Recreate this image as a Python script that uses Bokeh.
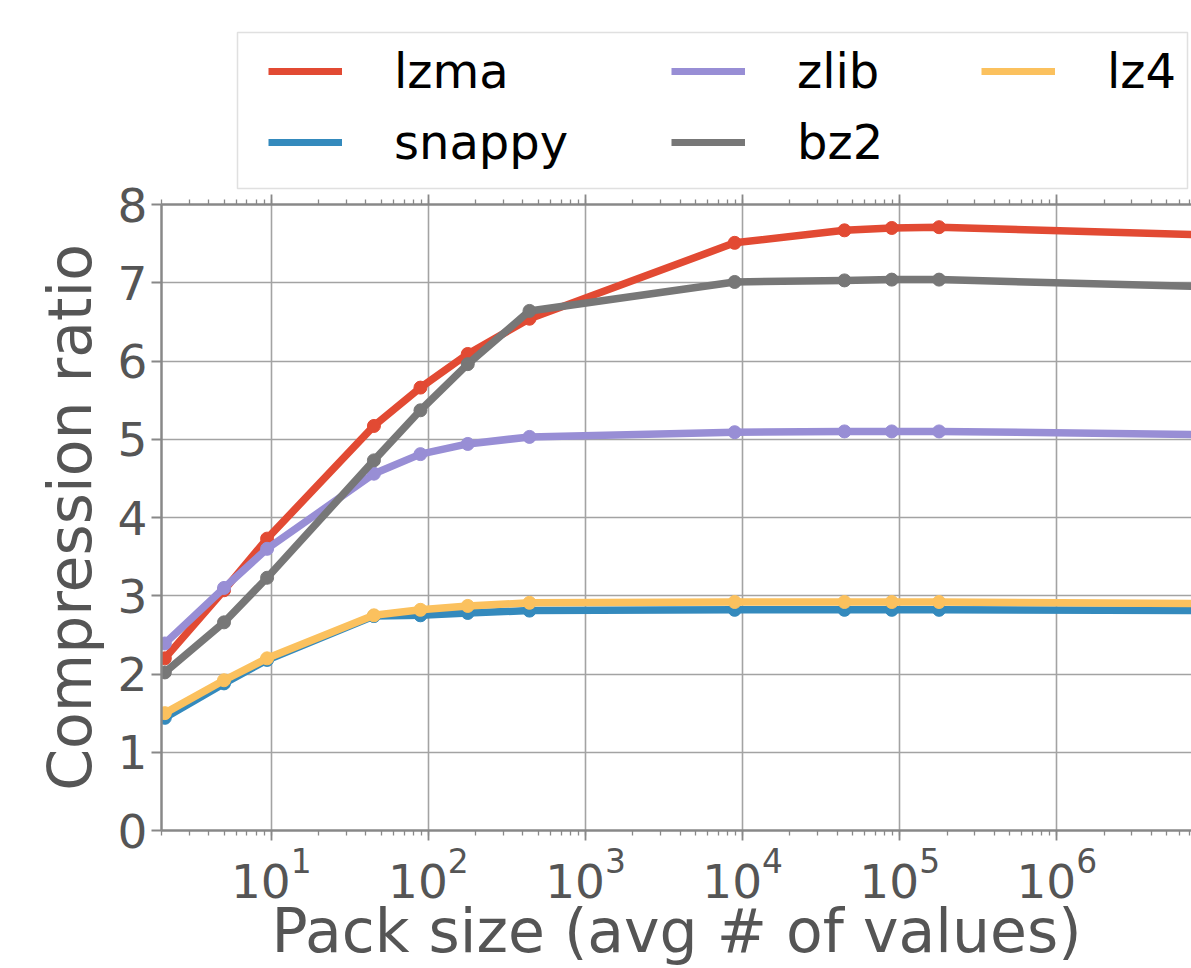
from bokeh.plotting import figure
from bokeh.layouts import column
from bokeh.models import (LogAxis, Legend, LegendItem, LogTicker, FixedTicker,
                          CustomJSTickFormatter, Range1d, BoxAnnotation)
from bokeh.embed import file_html
from bokeh.resources import INLINE

# ---- data ----
pack_size = [2.1, 5.0, 9.4, 45, 89, 178, 440, 8900, 44500, 89000, 178000, 8900000]
lzma   = [2.20, 3.07, 3.73, 5.17, 5.66, 6.09, 6.54, 7.51, 7.67, 7.70, 7.71, 7.61]
snappy = [1.44, 1.88, 2.18, 2.74, 2.75, 2.78, 2.81, 2.82, 2.82, 2.82, 2.82, 2.81]
zlib   = [2.39, 3.10, 3.60, 4.56, 4.81, 4.94, 5.03, 5.09, 5.10, 5.10, 5.10, 5.06]
bz2    = [2.02, 2.66, 3.23, 4.73, 5.37, 5.96, 6.64, 7.01, 7.03, 7.04, 7.04, 6.95]
lz4    = [1.50, 1.92, 2.20, 2.75, 2.82, 2.87, 2.91, 2.92, 2.92, 2.92, 2.92, 2.90]
names  = ["lzma", "snappy", "zlib", "bz2", "lz4"]
colors = ["#E24A33", "#348ABD", "#988ED5", "#777777", "#FBC15E"]
y_ticks = [0, 1, 2, 3, 4, 5, 6, 7, 8]

series = dict(zip(names, [lzma, snappy, zlib, bz2, lz4]))
color_of = dict(zip(names, colors))

FONT = "DejaVu Sans"
AX = "#888888"
TXT = "#555555"
GRID = "#a3a3a3"

W = 1191
LEFT = 161
LEG_H = 190
OVERLAP = 22
MAIN_H = 968 - LEG_H + OVERLAP

# ---------------- main chart ----------------
p = figure(width=W, height=MAIN_H, x_axis_type="log",
           x_range=Range1d(2, 7.2e6), y_range=Range1d(0, 8),
           output_backend="svg", toolbar_location=None,
           min_border_left=LEFT, min_border_right=0,
           min_border_top=14 + OVERLAP, min_border_bottom=138,
           background_fill_color="white", border_fill_alpha=0.0,
           margin=(-OVERLAP, 0, 0, 0))
p.outline_line_color = None

p.xgrid.grid_line_color = GRID
p.xgrid.grid_line_width = 1.6
p.ygrid.grid_line_color = GRID
p.ygrid.grid_line_width = 1.6

p.yaxis.ticker = FixedTicker(ticks=y_ticks)
p.yaxis.axis_label = "Compression ratio"
p.yaxis.axis_label_text_font = FONT
p.yaxis.axis_label_text_font_size = "60px"
p.yaxis.axis_label_text_font_style = "normal"
p.yaxis.axis_label_text_color = TXT
p.yaxis.axis_label_standoff = 10
p.yaxis.major_label_text_font = FONT
p.yaxis.major_label_text_font_size = "47px"
p.yaxis.major_label_text_color = TXT
p.yaxis.major_label_standoff = 4

p.xaxis.ticker = LogTicker(num_minor_ticks=10)
p.xaxis.axis_label = "Pack size (avg # of values)"
p.xaxis.axis_label_text_font = FONT
p.xaxis.axis_label_text_font_size = "60px"
p.xaxis.axis_label_text_font_style = "normal"
p.xaxis.axis_label_text_color = TXT
p.xaxis.axis_label_standoff = -5
p.xaxis.major_label_text_font = FONT
p.xaxis.major_label_text_font_size = "47px"
p.xaxis.major_label_text_color = TXT
p.xaxis.major_label_standoff = 7

for ax in (p.xaxis, p.yaxis):
    ax.axis_line_color = AX
    ax.axis_line_width = 2.5
    ax.major_tick_line_color = AX
    ax.major_tick_line_width = 1.8
    ax.major_tick_out = 10
    ax.major_tick_in = 0
    ax.minor_tick_line_width = 1.3
    ax.minor_tick_out = 5
    ax.minor_tick_in = 0
p.xaxis.minor_tick_line_color = AX
p.yaxis.minor_tick_line_color = None

# top spine with ticks, no labels
top = LogAxis(ticker=LogTicker(num_minor_ticks=10),
              formatter=CustomJSTickFormatter(code="return ''"),
              axis_line_color=AX, axis_line_width=2.5,
              major_tick_line_color=AX, major_tick_line_width=1.8,
              major_tick_out=10, major_tick_in=0,
              minor_tick_line_color=AX, minor_tick_line_width=1.3,
              minor_tick_out=5, minor_tick_in=0,
              major_label_text_font_size="1px", major_label_standoff=0)
p.add_layout(top, "above")

for name in names:
    c = color_of[name]
    ys = series[name]
    p.line(pack_size, ys, line_width=7.5, color=c, line_join="round")
    p.scatter(pack_size, ys, size=13, color=c)

# ---------------- legend strip ----------------
lg = figure(width=W, height=LEG_H, x_range=Range1d(LEFT, W), y_range=Range1d(0, LEG_H),
            x_axis_type=None, y_axis_type=None,
            output_backend="svg", toolbar_location=None,
            min_border_left=LEFT, min_border_right=0,
            min_border_top=0, min_border_bottom=0,
            background_fill_color="white", border_fill_color="white")
lg.outline_line_color = None
lg.xgrid.visible = False
lg.ygrid.visible = False

nan = float("nan")
dummy = {}
for name in names:
    dummy[name] = lg.line(x=[nan], y=[nan], line_width=7, color=color_of[name])

common = dict(label_text_font=FONT, label_text_font_size="48px",
              label_text_color="black", glyph_width=74, glyph_height=56,
              label_height=56, label_standoff=52, spacing=15, padding=0,
              margin=0, orientation="vertical", label_width=20,
              border_line_color=None, background_fill_alpha=0.0)

ROW_TOP = 43
two_rows = 56 * 2 + 15
one_row = 56
cols = [(["lzma", "snappy"], 268), (["zlib", "bz2"], 671), (["lz4"], 981)]
for labels, gx in cols:
    hgt = two_rows if len(labels) == 2 else one_row
    vy = LEG_H - ROW_TOP - hgt
    leg = Legend(items=[LegendItem(label=l, renderers=[dummy[l]]) for l in labels],
                 location=(gx - LEFT, vy), **common)
    lg.add_layout(leg)

frame_box = BoxAnnotation(left=237, right=1187, bottom=LEG_H - 188, top=LEG_H - 32,
                          fill_color=None, fill_alpha=0.0,
                          line_color="#999999", line_width=1.5)
lg.add_layout(frame_box)

layout = column(lg, p, spacing=0)
open("out.html", "w").write(file_html(layout, INLINE))
